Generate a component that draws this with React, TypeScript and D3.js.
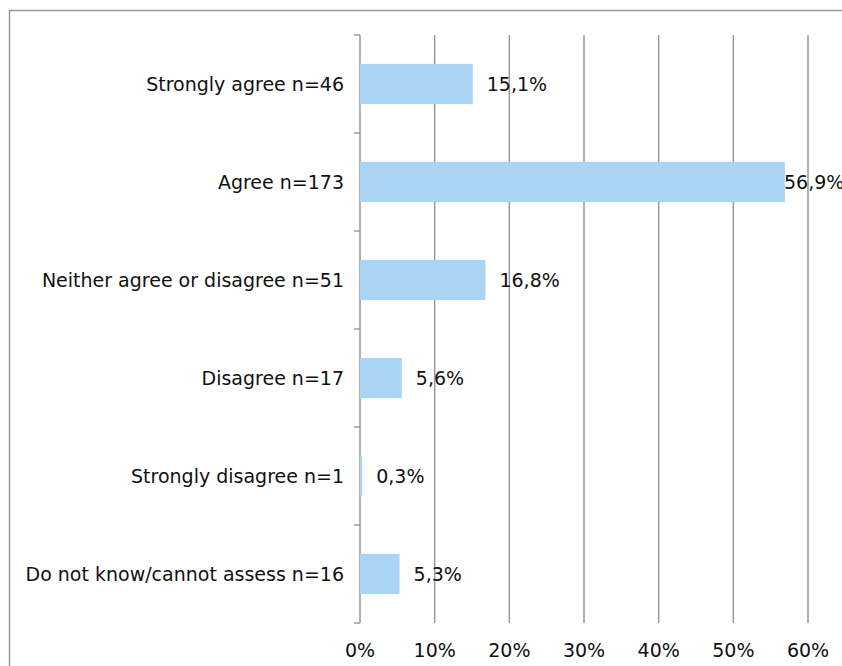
import React, { useEffect, useRef } from "react";
import * as d3 from "d3";

const categories = [
  "Strongly agree n=46",
  "Agree n=173",
  "Neither agree or disagree n=51",
  "Disagree n=17",
  "Strongly disagree n=1",
  "Do not know/cannot assess n=16",
];
const values = [15.1, 56.9, 16.8, 5.6, 0.3, 5.3];
const tickValues = [0, 10, 20, 30, 40, 50, 60];

const App = () => {
  const ref = useRef<SVGSVGElement>(null);

  useEffect(() => {
    const WIDTH = 842;
    const HEIGHT = 666;
    const MARGIN = { top: 35, right: 34, bottom: 43, left: 360 };
    const FONT = "'DejaVu Sans', Verdana, sans-serif";
    const FONT_SIZE = 19;

    const svg = d3.select(ref.current);
    svg.selectAll("*").remove();

    // chart area frame
    svg
      .append("rect")
      .attr("x", 9.5)
      .attr("y", 10.5)
      .attr("width", WIDTH + 20)
      .attr("height", HEIGHT + 20)
      .attr("fill", "#fff")
      .attr("stroke", "#999")
      .attr("stroke-width", 1.5);

    const x = d3
      .scaleLinear()
      .domain([0, 60])
      .range([MARGIN.left, WIDTH - MARGIN.right]);
    const y = d3
      .scaleBand()
      .domain(categories)
      .range([MARGIN.top, HEIGHT - MARGIN.bottom])
      .paddingInner(0.59)
      .paddingOuter(0.295);
    const band = d3
      .scaleBand()
      .domain(categories)
      .range([MARGIN.top, HEIGHT - MARGIN.bottom]);

    // gridlines
    svg
      .append("g")
      .selectAll("line")
      .data(tickValues)
      .join("line")
      .attr("x1", (d) => x(d))
      .attr("x2", (d) => x(d))
      .attr("y1", MARGIN.top)
      .attr("y2", HEIGHT - MARGIN.bottom)
      .attr("stroke", "#999")
      .attr("stroke-width", 1.5);

    // category axis tick marks at band edges
    const edges = categories.map((c) => band(c) as number).concat([HEIGHT - MARGIN.bottom]);
    svg
      .append("g")
      .selectAll("line")
      .data(edges)
      .join("line")
      .attr("x1", MARGIN.left - 6)
      .attr("x2", MARGIN.left)
      .attr("y1", (d) => d)
      .attr("y2", (d) => d)
      .attr("stroke", "#999")
      .attr("stroke-width", 1.5);

    // bars
    svg
      .append("g")
      .selectAll("rect")
      .data(values)
      .join("rect")
      .attr("x", x(0))
      .attr("y", (d, i) => y(categories[i]) as number)
      .attr("width", (d) => x(d) - x(0))
      .attr("height", y.bandwidth())
      .attr("fill", "#a9d4f4");

    // category labels
    svg
      .append("g")
      .selectAll("text")
      .data(categories)
      .join("text")
      .attr("x", MARGIN.left - 16)
      .attr("y", (d) => (band(d) as number) + band.bandwidth() / 2)
      .attr("dy", "0.35em")
      .attr("text-anchor", "end")
      .attr("font-family", FONT)
      .attr("font-size", FONT_SIZE)
      .attr("fill", "#111")
      .text((d) => d);

    // value labels (kept inside the chart area like Excel does)
    const labelMax = WIDTH - 58;
    svg
      .append("g")
      .selectAll("text")
      .data(values)
      .join("text")
      .attr("x", (d) => Math.min(x(d) + 14, labelMax))
      .attr("y", (d, i) => (band(categories[i]) as number) + band.bandwidth() / 2)
      .attr("dy", "0.35em")
      .attr("font-family", FONT)
      .attr("font-size", FONT_SIZE)
      .attr("fill", "#111")
      .text((d) => d.toFixed(1).replace(".", ",") + "%");

    // x tick labels
    svg
      .append("g")
      .selectAll("text")
      .data(tickValues)
      .join("text")
      .attr("x", (d) => x(d))
      .attr("y", HEIGHT - MARGIN.bottom + 27)
      .attr("dy", "0.35em")
      .attr("text-anchor", "middle")
      .attr("font-family", FONT)
      .attr("font-size", FONT_SIZE)
      .attr("fill", "#111")
      .text((d) => d + "%");
  }, []);

  return (
    <svg
      ref={ref}
      width={842}
      height={666}
      style={{ position: "absolute", left: 0, top: 0, display: "block" }}
    />
  );
};

export default App;
